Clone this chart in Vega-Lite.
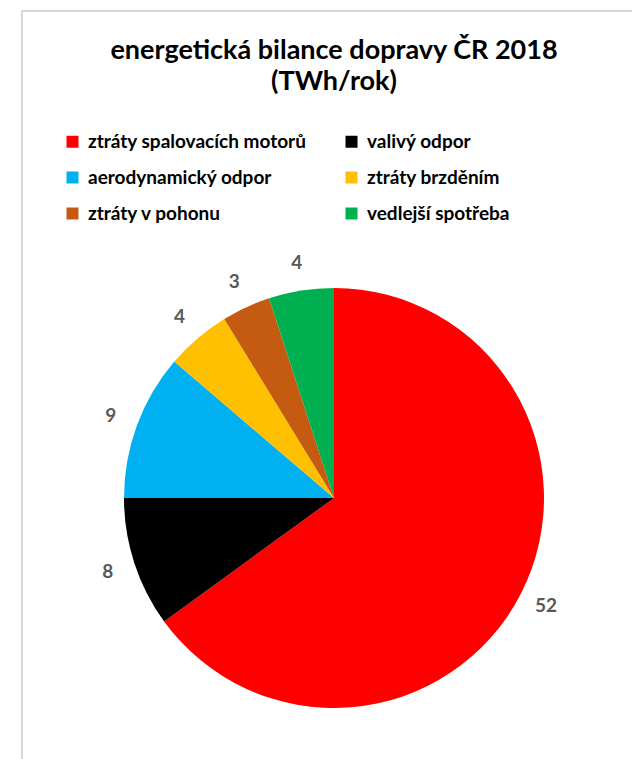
{
  "$schema": "https://vega.github.io/schema/vega-lite/v6.json",
  "autosize": {"type": "none"},
  "width": 624,
  "height": 974,
  "padding": {"left": 22, "top": 11, "right": -14, "bottom": -226},
  "background": "#ffffff",
  "view": {"stroke": "#d9d9d9", "strokeWidth": 2, "fill": "#ffffff"},
  "title": {
    "text": ["energetická bilance dopravy ČR 2018", "(TWh/rok)"],
    "font": "Lato",
    "fontSize": 27,
    "fontWeight": "bold",
    "color": "#000000",
    "anchor": "middle",
    "lineHeight": 31,
    "offset": 0,
    "dy": 85
  },
  "data": {
    "values": [
      {"kategorie": "ztráty spalovacích motorů", "hodnota": 52, "poradi": 1},
      {"kategorie": "valivý odpor", "hodnota": 8, "poradi": 2},
      {"kategorie": "aerodynamický odpor", "hodnota": 9, "poradi": 3},
      {"kategorie": "ztráty brzděním", "hodnota": 4, "poradi": 4},
      {"kategorie": "ztráty v pohonu", "hodnota": 3, "poradi": 5},
      {"kategorie": "vedlejší spotřeba", "hodnota": 4, "poradi": 6}
    ]
  },
  "layer": [
    {
      "mark": {"type": "arc", "outerRadius": 210},
      "encoding": {
        "theta": {"field": "hodnota", "type": "quantitative", "stack": true},
        "order": {"field": "poradi", "type": "quantitative", "sort": "ascending"},
        "color": {
          "field": "kategorie",
          "type": "nominal",
          "scale": {
            "domain": ["ztráty spalovacích motorů", "valivý odpor", "aerodynamický odpor", "ztráty brzděním", "ztráty v pohonu", "vedlejší spotřeba"],
            "range": ["#ff0000", "#000000", "#00b0f0", "#ffc000", "#c55a11", "#00b050"]
          },
          "legend": {
            "title": null,
            "orient": "none",
            "legendX": 41,
            "legendY": 121,
            "columns": 2,
            "direction": "horizontal",
            "columnPadding": 35,
            "rowPadding": 16,
            "padding": 0,
            "symbolType": "square",
            "symbolSize": 144,
            "symbolStrokeWidth": 0,
            "symbolOpacity": 1,
            "labelFont": "Lato",
            "labelFontSize": 19,
            "labelFontWeight": "bold",
            "labelColor": "#000000",
            "labelOffset": 6,
            "labelLimit": 400
          }
        }
      }
    },
    {
      "mark": {"type": "text", "radius": 238, "font": "Lato", "fontSize": 19, "fontWeight": "bold", "fill": "#595959", "align": "center", "baseline": "middle"},
      "encoding": {
        "theta": {"field": "hodnota", "type": "quantitative", "stack": true},
        "order": {"field": "poradi", "type": "quantitative", "sort": "ascending"},
        "text": {"field": "hodnota", "type": "quantitative", "format": "d"}
      }
    }
  ],
  "config": {
    "view": {"stroke": "#d9d9d9", "strokeWidth": 2}
  }
}
